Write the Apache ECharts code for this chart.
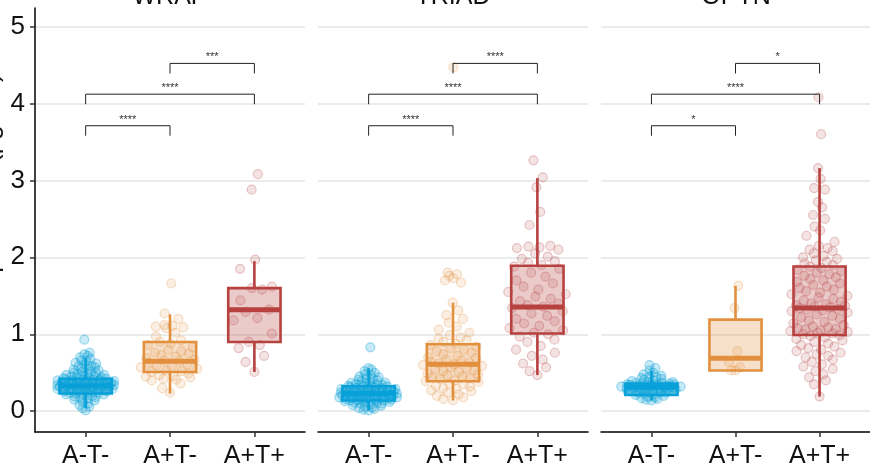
<!DOCTYPE html>
<html><head><meta charset="utf-8">
<script src="https://cdn.jsdelivr.net/npm/echarts@6/dist/echarts.min.js"></script>
<style>html,body{margin:0;padding:0;background:#fff}#c{width:870px;height:466px}</style>
</head><body><div id="c"></div>
<script>
// ---------------- DATA ----------------
const panels = ['WRAP', 'TRIAD', 'OPTN'];
const groups = ['A-T-', 'A+T-', 'A+T+'];
const yTicks = [0, 1, 2, 3, 4, 5];

// box stats per group: [lower whisker, Q1, median, Q3, upper whisker]
const wrapBox  = [[0.04, 0.23, 0.33, 0.42, 0.69], [0.23, 0.51, 0.65, 0.90, 1.26], [0.51, 0.90, 1.32, 1.60, 1.95]];
const triadBox = [[0.01, 0.14, 0.23, 0.325, 0.56], [0.14, 0.39, 0.61, 0.87, 1.41], [0.47, 1.01, 1.355, 1.89, 3.03]];
const optnBox  = [[0.14, 0.21, 0.31, 0.36, 0.53], [0.53, 0.53, 0.69, 1.19, 1.63], [0.19, 0.99, 1.34, 1.88, 3.16]];

// individual observations
const wrapAnTn = [0.93,0.76,0.74,0.72,0.70,0.68,0.66,0.65,0.63,0.62,0.60,0.59,0.58,0.57,0.56,0.55,0.54,0.53,0.52,0.51,0.50,0.50,0.49,0.48,0.47,0.47,0.46,0.45,0.45,0.44,0.44,0.43,0.43,0.42,0.42,0.41,0.41,0.41,0.40,0.40,0.40,0.39,0.39,0.39,0.38,0.38,0.38,0.37,0.37,0.37,0.36,0.36,0.36,0.35,0.35,0.35,0.34,0.34,0.34,0.33,0.33,0.33,0.33,0.32,0.32,0.32,0.31,0.31,0.31,0.30,0.30,0.30,0.29,0.29,0.29,0.28,0.28,0.28,0.27,0.27,0.26,0.26,0.25,0.25,0.24,0.24,0.23,0.23,0.22,0.22,0.21,0.20,0.19,0.18,0.17,0.16,0.15,0.14,0.12,0.10,0.08,0.06,0.04,0.01];
const wrapApTn = [1.66,1.27,1.20,1.12,1.11,1.10,1.09,1.08,1.02,0.97,0.92,0.90,0.88,0.86,0.83,0.80,0.78,0.76,0.75,0.73,0.71,0.69,0.67,0.66,0.65,0.63,0.61,0.60,0.58,0.57,0.55,0.53,0.52,0.51,0.49,0.47,0.46,0.45,0.44,0.42,0.41,0.40,0.36,0.30,0.24];
const wrapApTp = [3.08,2.88,1.97,1.85,1.62,1.60,1.58,1.44,1.32,1.29,1.21,1.18,1.01,0.90,0.86,0.82,0.72,0.64,0.51];

const triadAnTn = [0.83,0.56,0.54,0.52,0.50,0.48,0.47,0.45,0.44,0.43,0.42,0.41,0.40,0.39,0.38,0.37,0.37,0.36,0.35,0.35,0.34,0.34,0.33,0.33,0.32,0.32,0.31,0.31,0.30,0.30,0.30,0.29,0.29,0.28,0.28,0.28,0.27,0.27,0.27,0.26,0.26,0.26,0.25,0.25,0.25,0.24,0.24,0.24,0.23,0.23,0.23,0.22,0.22,0.22,0.21,0.21,0.21,0.20,0.20,0.20,0.19,0.19,0.19,0.18,0.18,0.18,0.17,0.17,0.17,0.16,0.16,0.16,0.15,0.15,0.15,0.14,0.14,0.14,0.13,0.13,0.12,0.12,0.11,0.11,0.10,0.10,0.09,0.08,0.07,0.06,0.05,0.04,0.03,0.02,0.01];
const triadApTn = [4.47,1.80,1.78,1.76,1.73,1.70,1.67,1.41,1.31,1.25,1.20,1.15,1.10,1.06,1.02,0.99,0.96,0.94,0.92,0.90,0.88,0.86,0.84,0.82,0.80,0.78,0.76,0.74,0.72,0.70,0.69,0.67,0.66,0.64,0.63,0.62,0.61,0.60,0.59,0.57,0.56,0.55,0.53,0.52,0.51,0.49,0.48,0.47,0.45,0.44,0.43,0.42,0.40,0.39,0.38,0.36,0.35,0.33,0.32,0.30,0.29,0.27,0.26,0.24,0.22,0.20,0.18,0.16,0.14];
const triadApTp = [3.26,3.04,2.91,2.59,2.42,2.15,2.14,2.13,2.12,2.10,2.05,2.01,1.98,1.95,1.93,1.90,1.88,1.85,1.80,1.75,1.70,1.66,1.62,1.58,1.55,1.52,1.49,1.46,1.43,1.40,1.38,1.36,1.34,1.30,1.27,1.24,1.20,1.17,1.14,1.11,1.08,1.05,1.02,1.00,0.97,0.93,0.90,0.85,0.80,0.76,0.72,0.67,0.62,0.57,0.52,0.47];

const optnAnTn = [0.60,0.56,0.53,0.50,0.48,0.46,0.45,0.44,0.43,0.42,0.41,0.40,0.39,0.38,0.38,0.37,0.37,0.36,0.36,0.35,0.35,0.35,0.34,0.34,0.34,0.33,0.33,0.33,0.32,0.32,0.32,0.31,0.31,0.31,0.30,0.30,0.30,0.29,0.29,0.29,0.28,0.28,0.27,0.27,0.26,0.26,0.25,0.25,0.24,0.24,0.23,0.22,0.21,0.20,0.19,0.18,0.17,0.16,0.15,0.14];
const optnApTn = [1.63,1.34,0.78,0.64,0.57,0.53,0.53];
const optnApTp = [4.08,3.60,3.16,3.02,2.90,2.88,2.72,2.65,2.55,2.50,2.40,2.35,2.28,2.20,2.15,2.12,2.10,2.08,2.05,2.02,2.00,1.98,1.96,1.94,1.92,1.90,1.88,1.86,1.84,1.82,1.80,1.78,1.76,1.74,1.72,1.70,1.68,1.66,1.64,1.62,1.60,1.58,1.56,1.54,1.52,1.50,1.48,1.46,1.44,1.42,1.40,1.39,1.38,1.37,1.36,1.35,1.34,1.33,1.32,1.31,1.30,1.28,1.26,1.24,1.22,1.20,1.18,1.16,1.14,1.12,1.10,1.09,1.08,1.07,1.06,1.05,1.04,1.03,1.02,1.01,1.00,0.99,0.98,0.96,0.94,0.92,0.90,0.88,0.86,0.84,0.82,0.80,0.78,0.76,0.74,0.72,0.70,0.67,0.64,0.61,0.58,0.55,0.52,0.48,0.44,0.40,0.35,0.19];

// significance labels for comparisons: [1 vs 2, 1 vs 3, 2 vs 3]
const wrapSig  = ['****', '****', '***'];
const triadSig = ['****', '****', '****'];
const optnSig  = ['*', '****', '*'];

// ---------------- LAYOUT / STYLE ----------------
const boxes = [wrapBox, triadBox, optnBox];
const points = [[wrapAnTn, wrapApTn, wrapApTp], [triadAnTn, triadApTn, triadApTp], [optnAnTn, optnApTn, optnApTp]];
const sigs = [wrapSig, triadSig, optnSig];
const pairs = [[1, 2], [1, 3], [2, 3]];
const bracketLevels = [3.71, 4.12, 4.52];
const colors = [[8, 160, 216], [226, 143, 62], [182, 65, 63]];
const ptAlpha = [[0.28, 0.45], [0.18, 0.35], [0.18, 0.35]];
const rgba = (c, a) => `rgba(${c[0]},${c[1]},${c[2]},${a})`;
const FONT = 'Liberation Sans';
const gridLefts = [35, 318, 601];
const GW = 270, GTOP = 8, GH = 424;

function vdc(n) { let v = 0, d = 1; while (n > 0) { d *= 2; v += (n % 2) / d; n = Math.floor(n / 2); } return v; }
function jitter(vals, center) {
  const n = vals.length;
  const mean = vals.reduce((a, b) => a + b, 0) / n;
  const sd = Math.sqrt(vals.reduce((a, b) => a + (b - mean) * (b - mean), 0) / Math.max(1, n - 1)) || 0.1;
  const bw = Math.max(0.04, 0.9 * sd * Math.pow(n, -0.2));
  const dens = vals.map(v => vals.reduce((s, w) => s + Math.exp(-0.5 * ((v - w) / bw) ** 2), 0));
  const dmax = Math.max(...dens);
  const maxHalf = 0.37 * Math.min(1, n / 25);
  const order = vals.map((v, i) => i).sort((a, b) => vals[a] - vals[b]);
  const rank = new Array(n); order.forEach((idx, r) => rank[idx] = r);
  return vals.map((v, i) => [center + (vdc(rank[i] + 1) * 2 - 1) * maxHalf * Math.pow(dens[i] / dmax, 0.8), v]);
}

const grids = [], xAxes = [], yAxes = [], series = [], graphics = [];
panels.forEach((name, p) => {
  grids.push({ left: gridLefts[p], top: GTOP, width: p === 2 ? GW - 1 : GW, height: GH, containLabel: false, outerBoundsMode: 'none' });
  xAxes.push({
    gridIndex: p, type: 'value', min: 0.4, max: 3.6,
    axisLine: { show: true, onZero: false, lineStyle: { color: '#000', width: 1.5 } },
    axisTick: { show: true, customValues: [1, 2, 3], length: 5, lineStyle: { color: '#333', width: 1.5 } },
    axisLabel: { show: true, customValues: [1, 2, 3], formatter: v => groups[Math.round(v) - 1], fontSize: 25, color: '#111', margin: 12, fontFamily: FONT },
    splitLine: { show: false }
  });
  yAxes.push({
    gridIndex: p, type: 'value', min: -0.27, max: 5.24,
    name: p === 0 ? 'Plasma p-tau217 (pg/mL)' : '', nameLocation: 'middle', nameGap: 31,
    nameTextStyle: { fontSize: 26, color: '#111', fontFamily: FONT },
    axisLine: { show: p === 0, onZero: false, lineStyle: { color: '#000', width: 1.5 } },
    axisTick: { show: p === 0, customValues: yTicks, length: 5, lineStyle: { color: '#333', width: 1.5 } },
    axisLabel: { show: p === 0, customValues: yTicks, fontSize: 26, color: '#111', margin: 10, fontFamily: FONT },
    splitLine: { show: true, lineStyle: { color: '#ebebeb', width: 2 } }
  });
  graphics.push({ type: 'text', x: gridLefts[p] + GW / 2, y: -15, style: { text: name, align: 'center', verticalAlign: 'top', fontSize: 25, fill: '#111', fontFamily: FONT } });

  points[p].forEach((vals, g) => {
    series.push({
      type: 'scatter', xAxisIndex: p, yAxisIndex: p, z: 2,
      data: jitter(vals, g + 1), symbol: 'circle', symbolSize: 9,
      itemStyle: { color: rgba(colors[g], ptAlpha[g][0]), borderColor: rgba(colors[g], ptAlpha[g][1]), borderWidth: 1.2 },
      silent: true
    });
  });

  series.push({
    type: 'custom', xAxisIndex: p, yAxisIndex: p, z: 3, silent: true,
    encode: { x: 0, y: [1, 2, 3, 4, 5] },
    data: boxes[p].map((b, g) => [g + 1].concat(b)),
    renderItem: function (params, api) {
      const x = api.value(0), lo = api.value(1), q1 = api.value(2), med = api.value(3), q3 = api.value(4), hi = api.value(5);
      const c = colors[params.dataIndex], hw = 0.31;
      const tl = api.coord([x - hw, q3]), br = api.coord([x + hw, q1]);
      const ml = api.coord([x - hw, med]), mr = api.coord([x + hw, med]);
      const pHi = api.coord([x, hi]), pQ3 = api.coord([x, q3]), pQ1 = api.coord([x, q1]), pLo = api.coord([x, lo]);
      const col = rgba(c, 1);
      return { type: 'group', children: [
        { type: 'line', shape: { x1: pHi[0], y1: pHi[1], x2: pQ3[0], y2: pQ3[1] }, style: { stroke: col, lineWidth: 2.6 } },
        { type: 'line', shape: { x1: pQ1[0], y1: pQ1[1], x2: pLo[0], y2: pLo[1] }, style: { stroke: col, lineWidth: 2.6 } },
        { type: 'rect', shape: { x: tl[0], y: tl[1], width: br[0] - tl[0], height: br[1] - tl[1] }, style: { fill: rgba(c, params.dataIndex === 0 ? 0.45 : 0.28), stroke: col, lineWidth: 2.6 } },
        { type: 'line', shape: { x1: ml[0], y1: ml[1], x2: mr[0], y2: mr[1] }, style: { stroke: col, lineWidth: 5 } }
      ] };
    }
  });

  const sig = sigs[p];
  series.push({
    type: 'custom', xAxisIndex: p, yAxisIndex: p, z: 4, silent: true,
    encode: { x: [0, 1], y: 2 },
    data: pairs.map((pr, k) => [pr[0], pr[1], bracketLevels[k]]),
    renderItem: function (params, api) {
      const a = api.coord([api.value(0), api.value(2)]), b = api.coord([api.value(1), api.value(2)]);
      const leg = 10;
      return { type: 'group', children: [
        { type: 'polyline', shape: { points: [[a[0], a[1] + leg], [a[0], a[1]], [b[0], b[1]], [b[0], b[1] + leg]] }, style: { stroke: '#222', lineWidth: 1, fill: null } },
        { type: 'text', style: { text: sig[params.dataIndex], x: (a[0] + b[0]) / 2, y: a[1] - 6, align: 'center', verticalAlign: 'middle', fontSize: 11, fill: '#333', fontFamily: FONT } }
      ] };
    }
  });
});

const chart = echarts.init(document.getElementById('c'), null, { renderer: 'canvas' });
chart.setOption({
  animation: false,
  backgroundColor: '#fff',
  grid: grids, xAxis: xAxes, yAxis: yAxes, series: series, graphic: graphics
});
</script>
</body></html>
